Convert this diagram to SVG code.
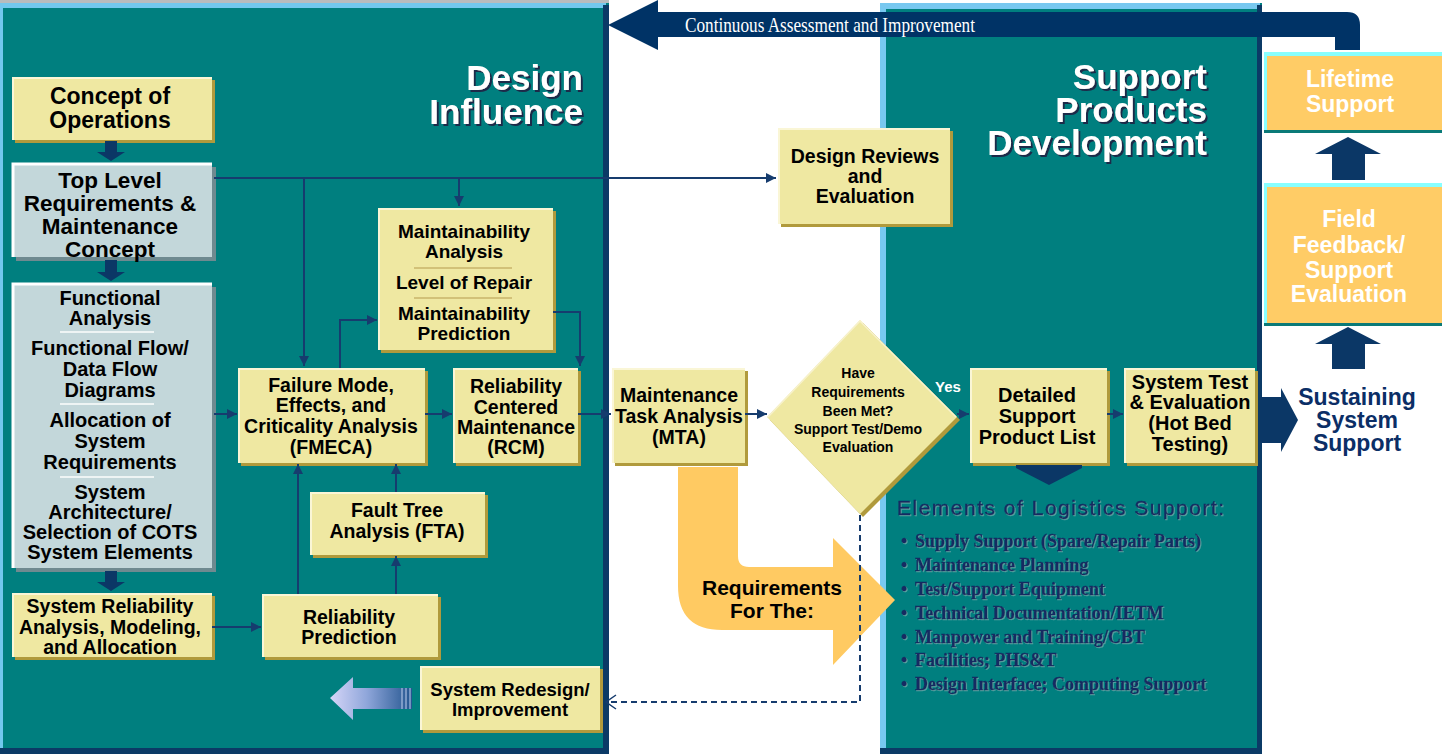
<svg xmlns="http://www.w3.org/2000/svg" width="1442" height="754" viewBox="0 0 1442 754">
<defs>
<style>
.yb{fill:#EFE8A2}
.ys{fill:#B09A3C}
.hl{fill:none;stroke:#FAF6D6;stroke-width:2}
.gb{fill:#C3D7DA}
.gs{fill:#6F8A90}
.ghl{fill:none;stroke:#FFFFFF;stroke-width:3}
.t{font-family:"Liberation Sans",Arial,sans-serif;font-weight:bold;text-anchor:middle;fill:#000}
.conn{stroke:#163C6E;stroke-width:2;fill:none}
.navy{fill:#0B3766}
.big{font-family:"Liberation Sans",Arial,sans-serif;font-weight:bold;font-size:35px;text-anchor:end;fill:#FFFFFF}
.sep{stroke:#EEF4F4;stroke-width:2}
.ysep{stroke:#C9B56A;stroke-width:1.5}
.ob{fill:#FFCC66}
.wt{font-family:"Liberation Sans",Arial,sans-serif;font-weight:bold;text-anchor:middle;fill:#FFFFFF;font-size:23px}
.bl{font-family:"Liberation Serif","Times New Roman",serif;font-weight:bold;font-size:18px;fill:#142C62;stroke:#142C62;stroke-width:0.3}
</style>
<filter id="dsh" x="-10%" y="-20%" width="130%" height="150%"><feDropShadow dx="2" dy="2" stdDeviation="0.4" flood-color="#1B2A48" flood-opacity="1"/></filter>
<filter id="lsh" x="-5%" y="-20%" width="110%" height="150%"><feDropShadow dx="1" dy="1" stdDeviation="0.3" flood-color="#8FB2B4" flood-opacity="0.6"/></filter>
<marker id="ah" viewBox="0 0 10 10" refX="10" refY="5" markerWidth="10" markerHeight="10" markerUnits="userSpaceOnUse" orient="auto"><path d="M0,0 L10,5 L0,10 z" fill="#163C6E"/></marker>
<marker id="oh" viewBox="0 0 12 16" refX="11" refY="8" markerWidth="12" markerHeight="16" markerUnits="userSpaceOnUse" orient="auto"><path d="M1,1 L11,8 L1,15" fill="none" stroke="#163C6E" stroke-width="1.5"/></marker>
<linearGradient id="grad" x1="0" y1="0" x2="1" y2="0"><stop offset="0" stop-color="#D6D6F8"/><stop offset="0.45" stop-color="#8FA6DA"/><stop offset="1" stop-color="#23558F"/></linearGradient>
</defs>

<rect width="1442" height="754" fill="#FFFFFF"/>

<!-- Left panel -->
<g id="panel-design">
<rect x="0" y="0" width="609" height="3" fill="#B8BCBE"/>
<rect x="0" y="3" width="609" height="751" fill="#007F7F"/>
<rect x="0" y="3" width="606" height="5" fill="#72C8EE"/>
<rect x="0" y="3" width="3" height="751" fill="#72C8EE"/>
<rect x="603" y="5" width="6" height="749" fill="#0B3A66"/>
<rect x="0" y="748" width="609" height="6" fill="#0B3A66"/>
<g filter="url(#dsh)">
<text class="big" x="583" y="90">Design</text>
<text class="big" x="583" y="124">Influence</text>
</g>
</g>

<!-- Right panel -->
<g id="panel-support">
<rect x="880" y="3" width="382" height="751" fill="#007F7F"/>
<rect x="880" y="3" width="380" height="6" fill="#78C8F0"/>
<rect x="880" y="3" width="6" height="751" fill="#78C8F0"/>
<rect x="1257" y="5" width="5" height="749" fill="#0B3A66"/>
<rect x="880" y="748" width="382" height="6" fill="#0B3A66"/>
<g filter="url(#dsh)">
<text class="big" x="1207" y="89">Support</text>
<text class="big" x="1207" y="122">Products</text>
<text class="big" x="1207" y="155">Development</text>
</g>
</g>

<!-- Continuous assessment arrow -->
<g id="continuous">
<path d="M608,25 L658,0 L658,12 L1347,12 Q1360,12 1360,25 L1360,50 L1335,50 L1335,37 L658,37 L658,50 Z" fill="#003366"/>
<text x="685" y="32" font-family="'Liberation Serif','Times New Roman',serif" font-size="21" fill="#FFFFFF" textLength="290" lengthAdjust="spacingAndGlyphs">Continuous Assessment and Improvement</text>
</g>

<!-- Right column -->
<g id="lifetime">
<rect x="1264" y="52" width="178" height="81" class="ob"/>
<rect x="1264" y="52" width="178" height="4" fill="#88FFFF"/>
<rect x="1264" y="52" width="3" height="81" fill="#88FFFF"/>
<rect x="1264" y="130" width="178" height="3" fill="#0A7A78"/>
<text class="wt" x="1350" y="87">Lifetime</text>
<text class="wt" x="1350" y="112">Support</text>
</g>
<g id="field">
<rect x="1264" y="183" width="178" height="143" class="ob"/>
<rect x="1264" y="183" width="178" height="4" fill="#88FFFF"/>
<rect x="1264" y="183" width="3" height="143" fill="#88FFFF"/>
<rect x="1264" y="323" width="178" height="3" fill="#0A7A78"/>
<text class="wt" x="1349" y="227">Field</text>
<text class="wt" x="1349" y="253">Feedback/</text>
<text class="wt" x="1349" y="278">Support</text>
<text class="wt" x="1349" y="302">Evaluation</text>
</g>
<g id="sustaining">
<text x="1357" y="405" font-family="'Liberation Sans',Arial,sans-serif" font-weight="bold" font-size="23" text-anchor="middle" fill="#0B2E66">Sustaining</text>
<text x="1357" y="428" font-family="'Liberation Sans',Arial,sans-serif" font-weight="bold" font-size="23" text-anchor="middle" fill="#0B2E66">System</text>
<text x="1357" y="451" font-family="'Liberation Sans',Arial,sans-serif" font-weight="bold" font-size="23" text-anchor="middle" fill="#0B2E66">Support</text>
</g>

<!-- Left column boxes -->
<g id="concept">
<rect x="15" y="80" width="200" height="63" class="ys"/>
<rect x="12" y="77" width="200" height="63" class="yb"/>
<path d="M13,140 V78 H212" class="hl"/>
<text class="t" font-size="23" x="110" y="104">Concept of</text>
<text class="t" font-size="23" x="110" y="128">Operations</text>
</g>
<g id="toplevel">
<rect x="16" y="167" width="200" height="94" class="gs"/>
<rect x="12" y="163" width="200" height="94" class="gb"/>
<path d="M13,257 V164 H212" class="ghl"/>
<text class="t" font-size="22.5" x="110" y="188">Top Level</text>
<text class="t" font-size="22.5" x="110" y="211">Requirements &amp;</text>
<text class="t" font-size="22.5" x="110" y="234">Maintenance</text>
<text class="t" font-size="22.5" x="110" y="257">Concept</text>
</g>
<g id="functional">
<rect x="16" y="287" width="200" height="285" class="gs"/>
<rect x="12" y="283" width="200" height="285" class="gb"/>
<path d="M13,568 V284 H212" class="ghl"/>
<line x1="60" y1="332" x2="154" y2="332" class="sep"/>
<line x1="60" y1="404" x2="154" y2="404" class="sep"/>
<line x1="60" y1="477" x2="154" y2="477" class="sep"/>
<g class="t" font-size="20">
<text x="110" y="305">Functional</text>
<text x="110" y="325">Analysis</text>
<text x="110" y="355">Functional Flow/</text>
<text x="110" y="376">Data Flow</text>
<text x="110" y="397">Diagrams</text>
<text x="110" y="427">Allocation of</text>
<text x="110" y="448">System</text>
<text x="110" y="469">Requirements</text>
<text x="110" y="499">System</text>
<text x="110" y="519">Architecture/</text>
<text x="110" y="539">Selection of COTS</text>
<text x="110" y="559">System Elements</text>
</g>
</g>
<g id="sysrel">
<rect x="15" y="596" width="200" height="64" class="ys"/>
<rect x="12" y="593" width="200" height="64" class="yb"/>
<path d="M13,657 V594 H212" class="hl"/>
<g class="t" font-size="19.5">
<text x="110" y="613">System Reliability</text>
<text x="110" y="634">Analysis, Modeling,</text>
<text x="110" y="654">and Allocation</text>
</g>
</g>

<!-- Middle boxes -->
<g id="maintainability">
<rect x="381" y="211" width="175" height="142" class="ys"/>
<rect x="378" y="208" width="175" height="142" class="yb"/>
<path d="M379,350 V209 H553" class="hl"/>
<line x1="414" y1="268" x2="512" y2="268" class="ysep"/>
<line x1="414" y1="298" x2="512" y2="298" class="ysep"/>
<g class="t" font-size="19">
<text x="464" y="238">Maintainability</text>
<text x="464" y="258">Analysis</text>
<text x="464" y="289">Level of Repair</text>
<text x="464" y="320">Maintainability</text>
<text x="464" y="340">Prediction</text>
</g>
</g>
<g id="fmeca">
<rect x="241" y="371" width="187" height="95" class="ys"/>
<rect x="238" y="368" width="187" height="95" class="yb"/>
<path d="M239,463 V369 H425" class="hl"/>
<g class="t" font-size="19.5">
<text x="331" y="392">Failure Mode,</text>
<text x="331" y="412">Effects, and</text>
<text x="331" y="433">Criticality Analysis</text>
<text x="331" y="454">(FMECA)</text>
</g>
</g>
<g id="rcm">
<rect x="456" y="371" width="125" height="95" class="ys"/>
<rect x="453" y="368" width="125" height="95" class="yb"/>
<path d="M454,463 V369 H578" class="hl"/>
<g class="t" font-size="19.5">
<text x="516" y="393">Reliability</text>
<text x="516" y="414">Centered</text>
<text x="516" y="434">Maintenance</text>
<text x="516" y="454">(RCM)</text>
</g>
</g>
<g id="fta">
<rect x="313" y="495" width="175" height="63" class="ys"/>
<rect x="310" y="492" width="175" height="63" class="yb"/>
<path d="M311,555 V493 H485" class="hl"/>
<g class="t" font-size="19.5">
<text x="397" y="517">Fault Tree</text>
<text x="397" y="538">Analysis (FTA)</text>
</g>
</g>
<g id="relpred">
<rect x="265" y="597" width="176" height="63" class="ys"/>
<rect x="262" y="594" width="176" height="63" class="yb"/>
<path d="M263,657 V595 H438" class="hl"/>
<g class="t" font-size="19.5">
<text x="349" y="624">Reliability</text>
<text x="349" y="644">Prediction</text>
</g>
</g>
<g id="redesign">
<rect x="423" y="669" width="180" height="64" class="ys"/>
<rect x="420" y="666" width="180" height="64" class="yb"/>
<path d="M421,730 V667 H600" class="hl"/>
<g class="t" font-size="18.5">
<text x="510" y="696">System Redesign/</text>
<text x="510" y="716">Improvement</text>
</g>
</g>
<g id="redesign-arrow">
<polygon points="330,698 353,677 353,688 412,688 412,709 353,709 353,720" fill="url(#grad)"/>
<line x1="402" y1="688" x2="402" y2="709" stroke="#BFD0EE" stroke-width="1"/>
<line x1="406" y1="688" x2="406" y2="709" stroke="#BFD0EE" stroke-width="1"/>
<line x1="410" y1="688" x2="410" y2="709" stroke="#BFD0EE" stroke-width="1"/>
</g>

<g id="mta">
<rect x="615" y="371" width="133" height="95" class="ys"/>
<rect x="612" y="368" width="133" height="95" class="yb"/>
<path d="M613,463 V369 H745" class="hl"/>
<g class="t" font-size="19.5">
<text x="679" y="402">Maintenance</text>
<text x="679" y="423">Task Analysis</text>
<text x="679" y="444">(MTA)</text>
</g>
</g>
<g id="reviews">
<rect x="781" y="131" width="172" height="96" class="ys"/>
<rect x="778" y="128" width="172" height="96" class="yb"/>
<path d="M779,224 V129 H950" class="hl"/>
<g class="t" font-size="19.5">
<text x="865" y="163">Design Reviews</text>
<text x="865" y="183">and</text>
<text x="865" y="203">Evaluation</text>
</g>
</g>

<!-- Requirements L arrow -->
<g id="requirements">
<path d="M678,467 H738 V556 Q738,567 749,567 H833 V538 L895,600 L833,665 V630 H722 Q678,630 678,586 Z" fill="#FFCA62"/>
<text class="t" font-size="21" x="772" y="595">Requirements</text>
<text class="t" font-size="21" x="772" y="618">For The:</text>
</g>

<g id="decision">
<polygon points="863,323 960,420 863,517 770,420" class="ys"/>
<polygon points="860,320 957,417 860,514 767,417" class="yb"/>
<path d="M768,417 L860,321 L956,417" fill="none" stroke="#F8F2CC" stroke-width="1.5"/>
<g class="t" font-size="14">
<text x="858" y="378">Have</text>
<text x="858" y="397">Requirements</text>
<text x="858" y="416">Been Met?</text>
<text x="858" y="434">Support Test/Demo</text>
<text x="858" y="452">Evaluation</text>
</g>
<text x="948" y="392" font-family="'Liberation Sans',Arial,sans-serif" font-weight="bold" font-size="15" text-anchor="middle" fill="#FFFFFF">Yes</text>
</g>

<g id="detailed">
<rect x="973" y="371" width="137" height="95" class="ys"/>
<rect x="970" y="368" width="137" height="95" class="yb"/>
<path d="M971,463 V369 H1107" class="hl"/>
<g class="t" font-size="20">
<text x="1037" y="402">Detailed</text>
<text x="1037" y="423">Support</text>
<text x="1037" y="444">Product List</text>
</g>
</g>
<g id="systest">
<rect x="1127" y="371" width="131" height="95" class="ys"/>
<rect x="1124" y="368" width="131" height="95" class="yb"/>
<path d="M1125,463 V369 H1255" class="hl"/>
<g class="t" font-size="20">
<text x="1190" y="389">System Test</text>
<text x="1190" y="409">&amp; Evaluation</text>
<text x="1190" y="430">(Hot Bed</text>
<text x="1190" y="451">Testing)</text>
</g>
</g>

<g id="elements" filter="url(#lsh)">
<text x="897" y="515" font-family="'Liberation Sans',Arial,sans-serif" font-size="21" letter-spacing="1.5" fill="#142C62" stroke="#142C62" stroke-width="0.4">Elements of Logistics Support:</text>
<g class="bl">
<text x="901" y="547">•</text><text x="915" y="547">Supply Support (Spare/Repair Parts)</text>
<text x="901" y="571">•</text><text x="915" y="571">Maintenance Planning</text>
<text x="901" y="595">•</text><text x="915" y="595">Test/Support Equipment</text>
<text x="901" y="619">•</text><text x="915" y="619">Technical Documentation/IETM</text>
<text x="901" y="643">•</text><text x="915" y="643">Manpower and Training/CBT</text>
<text x="901" y="666">•</text><text x="915" y="666">Facilities; PHS&amp;T</text>
<text x="901" y="690">•</text><text x="915" y="690">Design Interface; Computing Support</text>
</g>
</g>

<!-- Connectors -->
<g id="connectors">
<path d="M214,178 H776" class="conn" marker-end="url(#ah)"/>
<path d="M304,178 V366" class="conn" marker-end="url(#ah)"/>
<path d="M459,178 V206" class="conn" marker-end="url(#ah)"/>
<path d="M214,414 H237" class="conn" marker-end="url(#ah)"/>
<path d="M425,414 H452" class="conn" marker-end="url(#ah)"/>
<path d="M578,414 H611" class="conn" marker-end="url(#ah)"/>
<path d="M745,414 H767" class="conn" marker-end="url(#ah)"/>
<path d="M957,414 H969" class="conn" marker-end="url(#ah)"/>
<path d="M1107,414 H1123" class="conn" marker-end="url(#ah)"/>
<path d="M340,368 V320 H377" class="conn" marker-end="url(#ah)"/>
<path d="M553,312 H580 V366" class="conn" marker-end="url(#ah)"/>
<path d="M298,594 V464" class="conn" marker-end="url(#ah)"/>
<path d="M396,594 V556" class="conn" marker-end="url(#ah)"/>
<path d="M396,492 V464" class="conn" marker-end="url(#ah)"/>
<path d="M212,627 H261" class="conn" marker-end="url(#ah)"/>
<path d="M860,515 V702 H606" class="conn" stroke-width="1.5" stroke-dasharray="6,4" marker-end="url(#oh)"/>
<polygon points="105,141 117,141 117,152 125,152 111,161 97,152 105,152" class="navy"/>
<polygon points="105,260 117,260 117,272 125,272 111,281 97,272 105,272" class="navy"/>
<polygon points="105,571 117,571 117,582 125,582 111,591 97,582 105,582" class="navy"/>
<polygon points="1016,465 1082,465 1082,468 1049,485 1016,468" class="navy"/>
<polygon points="1348,137 1381,154 1365,154 1365,180 1332,180 1332,154 1315,154" class="navy"/>
<polygon points="1348,327 1381,344 1365,344 1365,369 1332,369 1332,344 1315,344" class="navy"/>
<polygon points="1260,397 1281,397 1281,388 1298,420 1281,452 1281,443 1260,443" class="navy"/>
</g>
</svg>
